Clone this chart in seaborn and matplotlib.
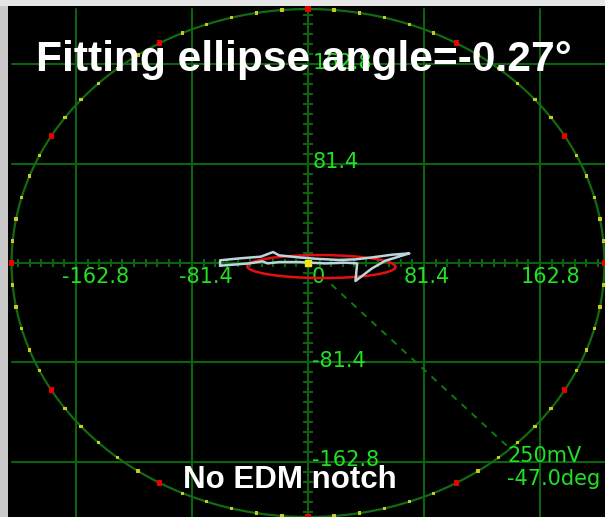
import numpy as np
import pandas as pd
import matplotlib
matplotlib.use("Agg")
import matplotlib.pyplot as plt
import seaborn as sns
from matplotlib.patches import Ellipse, Rectangle
from matplotlib.collections import LineCollection

sns.set_style("dark")
plt.rcParams["font.family"] = ["DejaVu Sans"]

# ---- scope settings -------------------------------------------------------
full_scale = 208.0                      # radius of the outer ring
grid_values = [-162.8, -81.4, 81.4, 162.8]
tick_values = [-162.8, -81.4, 0.0, 81.4, 162.8]
tick_labels = ["-162.8", "-81.4", "0", "81.4", "162.8"]
minor_step = 8.14

# ---- measured X/Y trace ---------------------------------------------------
trace_x = [-61.7, -61.7, -48.2, -33.1, -24.5, -20.3, -6.3, 5.4, 21.7, 33.3,
           44.9, 58.9, 71.1, 63.6, 54.3, 44.9, 33.3, 34.5, 26.3, 12.4,
           0.7, -6.3, -20.3, -28.4, -31.9, -41.2, -61.7]
trace_y = [-2.2, 2.2, 3.8, 5.2, 9.0, 6.3, 4.6, 3.5, 2.5, 3.0,
           4.6, 6.8, 7.9, 5.2, 1.9, -4.4, -14.7, -0.3, 0.3, -0.3,
           0.3, 0.8, 0.8, -0.3, 1.4, -0.3, -2.2]

# ---- fitted ellipse -------------------------------------------------------
ell_center = (9.4, -2.9)
ell_semi_major = 52.0
ell_semi_minor = 9.4
ell_angle = -0.27

# ---- cursor readout -------------------------------------------------------
cursor_amp = "250mV"
cursor_deg = -47.0

# ---- colours --------------------------------------------------------------
grid_col = "#0d620d"
ring_col = "#126a12"
label_col = "#22e022"
trace_col = "#bcd4dc"

fig = plt.figure(figsize=(6.05, 5.17), dpi=100)
fig.patch.set_facecolor("#c9c9c9")
fig.patches.append(Rectangle((0, 1 - 6 / 517), 1, 6 / 517, transform=fig.transFigure,
                             facecolor="#e6e6e6", edgecolor="none", zorder=0))

ax = fig.add_axes([8 / 605, 0, 597 / 605, 511 / 517])
ax.set_facecolor("black")
ax.set_xlim(-210.5, 208.4)
ax.set_ylim(-208.0, 210.5)
for s in ax.spines.values():
    s.set_visible(False)
ax.set_xticks([])
ax.set_yticks([])
ax.grid(False)

R = full_scale
# grid lines
for v in grid_values:
    ax.plot([v, v], [-R, R], color=grid_col, lw=1.5, zorder=1)
    ax.plot([-R, R + 5], [v, v], color=grid_col, lw=1.5, zorder=1)
ax.plot([0, 0], [-R - 3, R], color=grid_col, lw=1.5, zorder=1)
ax.plot([-R, R + 5], [0, 0], color=grid_col, lw=1.5, zorder=1)

# minor ticks along the centre axes
k = np.arange(-25, 26) * minor_step
k = k[np.abs(k) < R]
segs_x = [[(t, -3.3), (t, 3.3)] for t in k]
segs_y = [[(-3.6, t), (3.6, t)] for t in k]
ax.add_collection(LineCollection(segs_x + segs_y, colors=grid_col, linewidths=1.5, zorder=1))

# outer ring
th = np.linspace(0, 2 * np.pi, 721)
ring = pd.DataFrame({"x": R * np.cos(th), "y": R * np.sin(th)})
sns.lineplot(data=ring, x="x", y="y", sort=False, estimator=None,
             color=ring_col, lw=1.6, ax=ax, zorder=2)

deg = np.arange(0, 360, 5)
dots = pd.DataFrame({"x": R * np.cos(np.radians(deg)), "y": R * np.sin(np.radians(deg)),
                     "major": deg % 30 == 0})
sns.scatterplot(data=dots[~dots.major], x="x", y="y", marker="s", s=6,
                color="#c8c81e", edgecolor="none", ax=ax, zorder=3)
sns.scatterplot(data=dots[dots.major], x="x", y="y", marker="s", s=14,
                color="#e80000", edgecolor="none", ax=ax, zorder=3)

# cursor line
cr = np.array([24.0, R])
cth = np.radians(cursor_deg)
ax.plot(cr * np.cos(cth), cr * np.sin(cth), color="#0f7a0f", lw=1.4,
        dashes=(3.5, 3.5), zorder=2)

# axis labels
x_offsets = [-14, -13, 4, -20, -19]
for v, lab, off in zip(tick_values, tick_labels, x_offsets):
    ax.annotate(lab, (v, 0), xytext=(off * 0.72, -13.5 * 0.72), textcoords="offset points",
                ha="left", va="center", color=label_col, fontsize=15, zorder=4)
for v, lab in zip(tick_values, tick_labels):
    if v == 0:
        continue
    ax.annotate(lab, (0, v), xytext=(4.5 * 0.72, 1.5 * 0.72), textcoords="offset points",
                ha="left", va="center", color=label_col, fontsize=15, zorder=4)

# cursor readout
cend = (R * np.cos(cth), R * np.sin(cth))
ax.annotate(cursor_amp, cend, xytext=(-3 * 0.72, -7 * 0.72), textcoords="offset points",
            ha="left", va="center", color=label_col, fontsize=15, zorder=4)
ax.annotate(f"{cursor_deg:.1f}deg", cend, xytext=(-3 * 0.72, -30 * 0.72),
            textcoords="offset points", ha="left", va="center", color=label_col,
            fontsize=15, zorder=4)

# fitted ellipse
ax.add_patch(Ellipse(ell_center, 2 * ell_semi_major, 2 * ell_semi_minor, angle=ell_angle,
                     fill=False, edgecolor="#e41010", lw=1.8, zorder=5))

# measured trace
trace = pd.DataFrame({"x": trace_x, "y": trace_y})
sns.lineplot(data=trace, x="x", y="y", sort=False, estimator=None,
             color=trace_col, lw=1.8, ax=ax, zorder=6)
ax.scatter([0], [0], marker="s", s=22, color="#e8e81a", zorder=7)
ax.set_xlabel("")
ax.set_ylabel("")

# headline annotations
fig.text(36 / 605, 1 - 71 / 517, f"Fitting ellipse angle={ell_angle}°", color="white",
         fontsize=30.6, fontweight="bold", family="Liberation Sans", ha="left",
         va="baseline", zorder=10)
fig.text(183 / 605, 1 - 488 / 517, "No EDM notch", color="white", fontsize=22.5,
         fontweight="bold", family="Liberation Sans", ha="left", va="baseline", zorder=10)

fig.savefig("out.png", dpi=100, facecolor=fig.get_facecolor())
